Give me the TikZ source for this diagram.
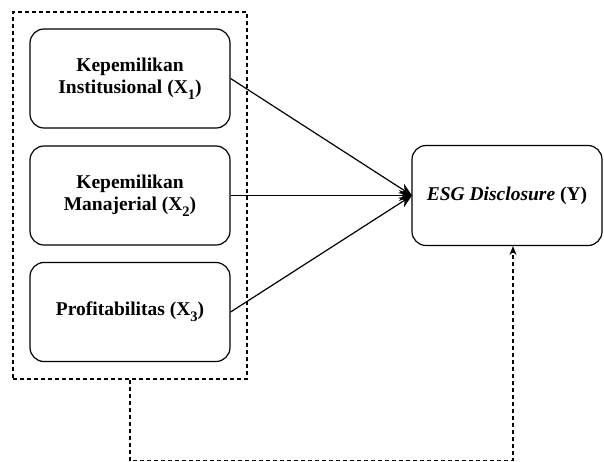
\documentclass[tikz,border=0pt]{standalone}
\usepackage{fontspec}
\setmainfont{Liberation Serif}
\usetikzlibrary{arrows.meta}
\newcommand{\mysub}[1]{\raisebox{-0.3em}{\fontsize{14.5}{14.5}\selectfont #1}}
\begin{document}
\begin{tikzpicture}[x=1pt,y=-1pt,
  varbox/.style={draw,line width=1.2pt,rounded corners=14pt,minimum width=200pt,minimum height=99pt,align=center,font=\fontsize{19.5}{22.5}\selectfont\bfseries},
  grpbox/.style={draw,dashed,line width=1.1pt,dash pattern=on 4pt off 3pt,minimum width=234pt,minimum height=367pt},
  solidarrow/.style={line width=1.2pt,-{Stealth[length=13pt,width=11pt]}},
  dasharrow/.style={line width=1.1pt,dash pattern=on 4pt off 3pt,-{Stealth[length=9pt,width=7pt]}}]
\useasboundingbox (0,0) rectangle (604,461);
\node[grpbox] (grp) at (130,195.5) {};
\node[varbox] (x1) at (130,78.5) {Kepemilikan\\Institusional (X\mysub{1})};
\node[varbox] (x2) at (130,195.5) {Kepemilikan\\Manajerial (X\mysub{2})};
\node[varbox] (x3) at (130,312) {Profitabilitas (X\mysub{3})};
\node[varbox,minimum width=190pt,minimum height=100pt] (y) at (507,195.5) {\textit{ESG Disclosure} (Y)};
\coordinate (tgt) at (412,195.5);
\draw[solidarrow] (x1.east) -- (tgt);
\draw[solidarrow] (x2.east) -- (tgt);
\draw[solidarrow] (x3.east) -- (tgt);
\coordinate (c1) at (130,460.5);
\coordinate (c2) at (513,460.5);
\coordinate (c3) at (513,246);
\draw[dasharrow] (grp.south) -- (c1) -- (c2) -- (c3);
\end{tikzpicture}
\end{document}
